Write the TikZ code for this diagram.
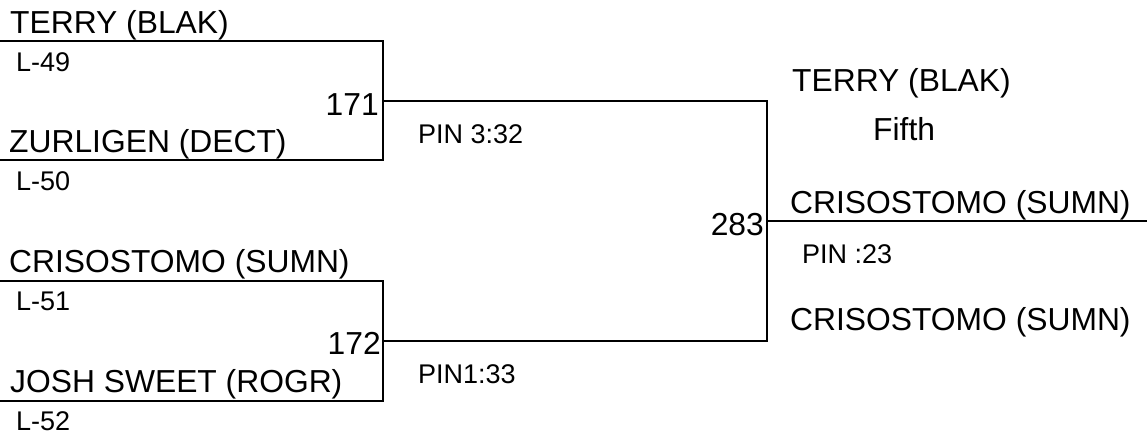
\documentclass[tikz,border=0pt]{standalone}
\usepackage{fontspec}
\setmainfont{Liberation Sans}
\begin{document}
\begin{tikzpicture}[x=1pt,y=-1pt,
  big/.style={font=\fontsize{31.8}{38}\selectfont, inner sep=0pt, anchor=base west},
  small/.style={font=\fontsize{27}{32}\selectfont, inner sep=0pt, anchor=base west},
  score/.style={font=\fontsize{31.8}{38}\selectfont, inner sep=0pt, anchor=base east},
  wire/.style={line width=2pt, line cap=rect}]
\useasboundingbox (0,0) rectangle (1147,437);
% names and labels, first round
\node[big]   (n1)  at (10,33)  {TERRY (BLAK)};
\node[small] (l49) at (16,71)  {L-49};
\node[big]   (n2)  at (9,152)  {ZURLIGEN (DECT)};
\node[small] (l50) at (16,190) {L-50};
\node[big]   (n3)  at (9,272)  {CRISOSTOMO (SUMN)};
\node[small] (l51) at (16,310) {L-51};
\node[big]   (n4)  at (10,392) {JOSH SWEET (ROGR)};
\node[small] (l52) at (16,430) {L-52};
% scores
\node[score] (s171) at (379,115) {171};
\node[score] (s172) at (381,354) {172};
\node[score] (s283) at (764,235) {283};
% results
\node[small] (p1) at (418,143) {PIN 3:32};
\node[small] (p2) at (418,383) {PIN1:33};
\node[big]   (r1) at (792,91)  {TERRY (BLAK)};
\node[big]   (r2) at (873,140) {Fifth};
\node[big]   (r3) at (790,213) {CRISOSTOMO (SUMN)};
\node[small] (p3) at (802,263) {PIN :23};
\node[big]   (r4) at (790,330) {CRISOSTOMO (SUMN)};
% bracket points
\coordinate (a1) at (0,41);   \coordinate (a2) at (383,41);
\coordinate (a3) at (383,160); \coordinate (a4) at (0,160);
\coordinate (b1) at (0,281);  \coordinate (b2) at (383,281);
\coordinate (b3) at (383,401); \coordinate (b4) at (0,401);
\coordinate (m1) at (383,101); \coordinate (m2) at (383,341);
\coordinate (c1) at (767,101); \coordinate (c2) at (767,341);
\coordinate (c3) at (767,221); \coordinate (c4) at (1147,221);
\draw[wire] (a1) -- (a2) -- (a3) -- (a4);
\draw[wire] (b1) -- (b2) -- (b3) -- (b4);
\draw[wire] (m1) -- (c1) -- (c2) -- (m2);
\draw[wire] (c3) -- (c4);
\end{tikzpicture}
\end{document}
